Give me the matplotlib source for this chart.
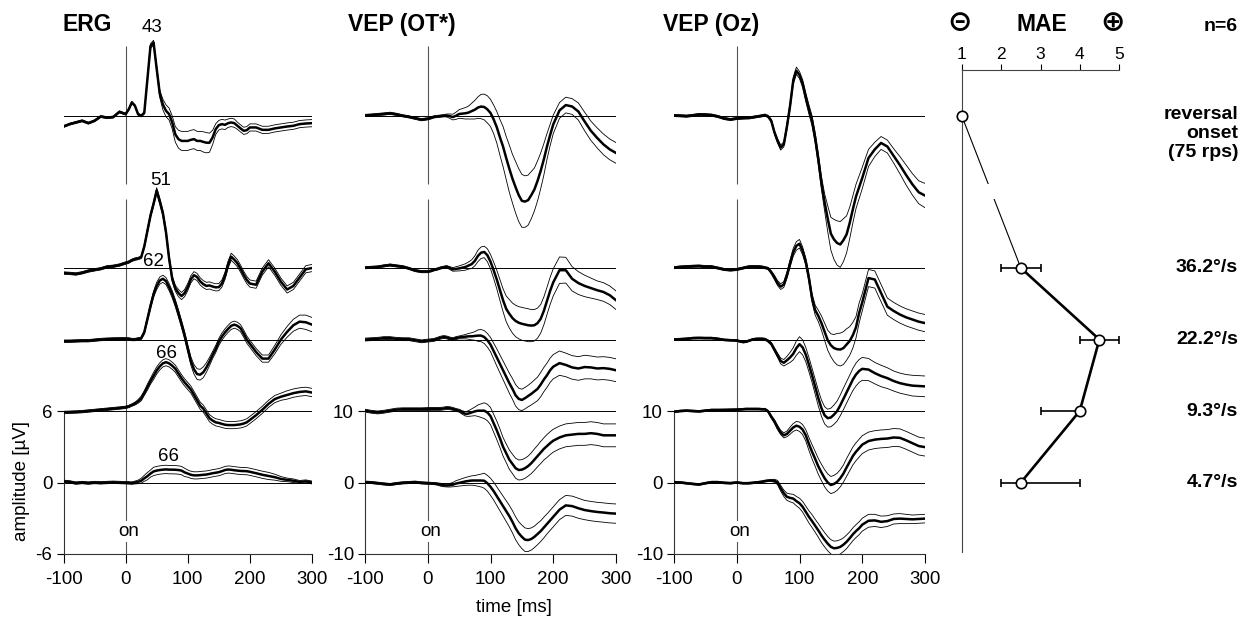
import numpy as np
import matplotlib.pyplot as plt

plt.rcParams['font.family'] = ['Liberation Sans', 'DejaVu Sans']
plt.rcParams['axes.unicode_minus'] = False

# time axis in ms (10 ms steps outside 0-200 ms, 5 ms inside)
t = np.concatenate([np.arange(-100, 0, 10), np.arange(0, 200, 5), np.arange(200, 301, 10)])

conditions = ['reversal\nonset\n(75 rps)', '36.2°/s', '22.2°/s', '9.3°/s', '4.7°/s']

# ---- ERG grand means (uV, relative to each trace baseline) and spread
erg_rev = [-0.84, -0.64, -0.50, -0.36, -0.56, -0.36, 0.00, -0.10, -0.05, 0.39,
           0.20, 0.60, 1.18, 0.90, 0.20, 0.05, 0.30, 3.10, 5.90, 6.20,
           4.00, 1.90, 1.00, 0.48, 0.20, -0.50, -1.50, -1.90, -2.05, -2.05,
           -2.05, -1.96, -1.90, -2.05, -2.05, -2.13, -2.20, -2.20, -1.76, -1.06,
           -0.73, -0.64, -0.70, -0.56, -0.50, -0.56, -0.78, -1.00, -1.20, -1.15,
           -0.92, -0.92, -1.12, -1.12, -1.00, -0.92, -0.84, -0.78, -0.64, -0.59, -0.56]
erg_362 = [-0.42, -0.45, -0.50, -0.40, -0.25, -0.15, -0.06, 0.10, 0.15, 0.25,
           0.42, 0.50, 0.65, 0.75, 0.80, 0.90, 1.80, 3.10, 4.40, 5.40,
           6.50, 5.60, 4.60, 3.00, 0.80, -0.90, -1.70, -2.10, -2.35, -2.10,
           -1.60, -0.95, -0.60, -0.75, -1.12, -1.35, -1.50, -1.46, -1.55, -1.62,
           -1.60, -1.30, -0.65, 0.30, 0.95, 0.70, 0.40, -0.05, -0.56, -1.00,
           -1.30, -1.40, -0.30, 0.40, -0.30, -1.15, -1.80, -1.50, -0.80, -0.10, 0.00]
erg_222 = [-0.14, -0.14, -0.12, -0.10, -0.10, -0.05, 0.00, 0.03, 0.05, 0.06,
           0.06, 0.05, 0.00, 0.00, 0.05, 0.10, 0.60, 1.70, 2.80, 3.80,
           4.50, 4.95, 5.10, 4.90, 4.40, 3.80, 3.05, 2.20, 1.30, 0.35,
           -0.75, -1.80, -2.50, -2.90, -2.95, -2.75, -2.35, -1.85, -1.30, -0.80,
           -0.20, 0.25, 0.60, 0.90, 1.15, 1.25, 1.15, 0.95, 0.50, 0.00,
           -0.35, -1.05, -1.60, -1.60, -0.85, 0.00, 0.65, 1.20, 1.50, 1.45, 1.25]
erg_93 = [-0.12, -0.10, -0.08, -0.05, 0.00, 0.05, 0.10, 0.15, 0.20, 0.25,
          0.31, 0.38, 0.50, 0.62, 0.80, 1.05, 1.50, 2.00, 2.50, 2.95,
          3.40, 3.75, 4.00, 4.10, 4.00, 3.80, 3.55, 3.15, 2.75, 2.40,
          2.10, 1.80, 1.35, 0.90, 0.45, 0.20, -0.20, -0.60, -0.80, -0.95,
          -1.00, -1.08, -1.15, -1.18, -1.18, -1.18, -1.15, -1.12, -1.05, -0.95,
          -0.75, -0.35, 0.10, 0.60, 1.00, 1.20, 1.35, 1.50, 1.60, 1.65, 1.55]
erg_47 = [0.10, 0.05, -0.05, 0.00, -0.05, 0.00, -0.03, 0.00, 0.02, 0.00,
          -0.02, -0.03, -0.05, 0.00, 0.05, 0.15, 0.35, 0.53, 0.75, 0.93,
          1.00, 1.05, 1.08, 1.10, 1.08, 1.08, 1.07, 1.05, 1.00, 0.85,
          0.75, 0.65, 0.60, 0.60, 0.62, 0.65, 0.67, 0.72, 0.78, 0.82,
          0.87, 0.95, 1.05, 1.09, 1.07, 1.03, 1.00, 0.97, 0.96, 0.95,
          0.90, 0.78, 0.65, 0.55, 0.45, 0.30, 0.22, 0.15, 0.05, 0.10, 0.00]

erg_rev_sd = ([0.08] * 16 + [0.10, 0.15, 0.20, 0.20,
              0.20, 0.30, 0.45, 0.50, 0.50, 0.55, 0.65, 0.75, 0.80, 0.80,
              0.80, 0.80, 0.80, 0.80, 0.80, 0.85, 0.85, 0.80, 0.60, 0.45,
              0.40, 0.40, 0.40, 0.35, 0.35, 0.35] + [0.30] * 15)
erg_362_sd = ([0.10] * 16 + [0.15, 0.20, 0.20, 0.20] + [0.25] * 7 + [0.30] * 34)
erg_222_sd = ([0.10] * 16 + [0.15, 0.20, 0.25, 0.25] + [0.30] * 11
              + [0.35, 0.40, 0.45, 0.45, 0.45, 0.40, 0.35] + [0.30] * 16
              + [0.35, 0.40, 0.45, 0.50, 0.55, 0.60, 0.60])
erg_93_sd = ([0.10] * 13 + [0.12, 0.15, 0.20, 0.20, 0.25, 0.25] + [0.30] * 37 + [0.35] * 5)
erg_47_sd = ([0.10] * 13 + [0.12, 0.15, 0.20, 0.25, 0.30, 0.30] + [0.35] * 11 + [0.30] * 24
             + [0.25, 0.20, 0.15, 0.15, 0.12, 0.12, 0.12])

# ---- VEP (OT*) grand means and spread
ot_rev = [0.15, 0.20, 0.28, 0.35, 0.45, 0.30, 0.10, -0.05, -0.25, -0.45,
          -0.32, -0.20, -0.05, 0.00, 0.05, 0.10, 0.14, 0.05, -0.08, 0.10,
          0.35, 0.40, 0.45, 0.55, 0.75, 0.95, 1.25, 1.39, 1.33, 1.00,
          0.50, -0.40, -1.50, -2.90, -4.20, -5.80, -7.30, -8.70, -9.90, -11.00,
          -11.80, -11.90, -11.70, -11.00, -10.20, -9.00, -7.60, -6.00, -4.20, -2.60,
          -1.10, 0.85, 1.60, 1.40, 0.70, -0.70, -2.00, -3.00, -3.90, -4.60, -5.10]
ot_362 = [0.05, 0.10, 0.15, 0.30, 0.42, 0.30, 0.19, -0.05, -0.35, -0.50,
          -0.50, -0.40, -0.25, -0.15, 0.00, 0.10, 0.19, 0.00, -0.19, -0.12,
          -0.05, 0.05, 0.15, 0.35, 0.55, 1.00, 1.70, 2.15, 2.25, 1.80,
          0.90, -0.30, -1.60, -3.06, -4.50, -5.70, -6.40, -7.00, -7.40, -7.65,
          -7.80, -7.90, -8.00, -8.05, -8.00, -7.70, -7.10, -6.00, -4.60, -3.20,
          -2.00, -0.30, -0.30, -1.50, -2.10, -2.50, -2.80, -3.10, -3.35, -3.80, -4.50]
ot_222 = [0.00, 0.05, 0.10, 0.20, 0.20, 0.10, 0.05, 0.05, -0.10, -0.25,
          -0.15, -0.10, -0.05, 0.10, 0.25, 0.35, 0.30, 0.15, 0.05, 0.20,
          0.30, 0.35, 0.40, 0.45, 0.45, 0.50, 0.55, 0.55, 0.35, -0.10,
          -0.70, -1.60, -2.50, -3.40, -4.30, -5.20, -6.10, -6.90, -7.80, -8.30,
          -8.45, -8.20, -7.90, -7.60, -7.25, -6.90, -6.30, -5.60, -5.00, -4.30,
          -3.80, -3.30, -3.55, -3.90, -4.05, -3.85, -3.90, -4.05, -4.00, -4.10, -4.30]
ot_93 = [0.05, -0.10, -0.20, -0.10, 0.05, 0.20, 0.25, 0.25, 0.25, 0.25,
         0.28, 0.30, 0.30, 0.30, 0.30, 0.35, 0.42, 0.40, 0.30, 0.15,
         0.05, -0.20, -0.40, -0.35, -0.20, -0.05, 0.05, 0.05, 0.05, -0.20,
         -0.70, -1.70, -2.70, -3.80, -5.00, -5.90, -6.80, -7.40, -8.00, -8.25,
         -8.20, -8.00, -7.70, -7.30, -6.80, -6.30, -5.80, -5.30, -4.90, -4.50,
         -4.15, -3.70, -3.40, -3.30, -3.20, -3.20, -3.10, -3.20, -3.40, -3.40, -3.40]
ot_47 = [0.05, 0.00, -0.10, -0.20, -0.28, -0.15, -0.05, 0.00, 0.05, -0.05,
         -0.10, -0.12, -0.15, -0.20, -0.30, -0.38, -0.42, -0.38, -0.30, -0.15,
         -0.05, 0.05, 0.15, 0.22, 0.28, 0.28, 0.28, 0.28, 0.25, -0.10,
         -0.60, -1.20, -1.90, -2.60, -3.30, -4.00, -4.70, -5.50, -6.40, -7.10,
         -7.60, -8.00, -8.05, -7.90, -7.60, -7.20, -6.80, -6.30, -5.80, -5.30,
         -4.80, -3.80, -3.20, -3.30, -3.60, -3.85, -4.00, -4.12, -4.20, -4.30, -4.35]

ot_rev_sd = ([0.15] * 16 + [0.20, 0.30, 0.40, 0.50,
             0.60, 0.70, 0.80, 0.90, 1.10, 1.30, 1.50, 1.70, 1.80, 1.90,
             1.90, 2.00, 2.20, 2.50, 2.80, 3.00, 3.30, 3.40, 3.60, 3.70,
             3.70, 3.60, 3.50, 3.30, 3.00, 2.80, 2.50, 2.20, 1.80, 1.50,
             1.30, 1.10, 1.10, 1.10, 1.20, 1.30, 1.35, 1.40, 1.45, 1.45, 1.45])
ot_362_sd = ([0.15] * 17 + [0.20, 0.25, 0.30,
             0.35, 0.40, 0.45, 0.50, 0.60, 0.70, 0.80, 0.80, 0.80, 0.90,
             1.00, 1.15, 1.30, 1.45, 1.60, 1.80, 2.00, 2.10, 2.20, 2.25,
             2.30, 2.30, 2.30, 2.25, 2.20, 2.10, 2.00, 1.95, 1.90, 1.90,
             1.90, 1.85, 1.80, 1.70, 1.60, 1.50, 1.40, 1.30, 1.30, 1.30, 1.30])
ot_222_sd = ([0.20] * 20 + [0.20, 0.25, 0.30, 0.40, 0.50, 0.60, 0.80, 0.85, 0.90, 0.95,
             1.00, 1.10, 1.20, 1.25, 1.30, 1.35, 1.40, 1.45, 1.50, 1.50,
             1.50, 1.50, 1.50, 1.55, 1.60, 1.65, 1.70, 1.70, 1.70, 1.70,
             1.70, 1.70, 1.65, 1.65, 1.65, 1.65, 1.60, 1.60, 1.60, 1.60, 1.60])
ot_93_sd = ([0.20] * 20 + [0.20, 0.25, 0.30, 0.40, 0.50, 0.60, 0.80, 0.95, 1.10, 1.15,
            1.20, 1.25, 1.30, 1.30, 1.30, 1.30, 1.35, 1.35, 1.40, 1.40,
            1.40, 1.40, 1.40, 1.45, 1.50, 1.50, 1.55, 1.55, 1.60, 1.60] + [1.60] * 11)
ot_47_sd = ([0.15] * 14 + [0.20, 0.20, 0.20, 0.25, 0.30, 0.40,
            0.45, 0.50, 0.55, 0.60, 0.65, 0.70, 0.80, 0.90, 1.05, 1.10,
            1.20, 1.25, 1.30, 1.35, 1.40, 1.45, 1.50, 1.55, 1.60, 1.60,
            1.65, 1.65, 1.60, 1.55, 1.50, 1.50, 1.45, 1.45, 1.40, 1.40]
            + [1.40] * 5 + [1.35] * 6)

# ---- VEP (Oz) grand means and spread
oz_rev = [0.14, 0.10, 0.05, 0.15, 0.28, 0.25, 0.19, 0.00, -0.28, -0.42,
          -0.28, -0.25, -0.22, -0.20, -0.19, -0.12, -0.05, 0.02, 0.10, 0.19,
          0.00, -0.60, -2.20, -3.40, -4.35, -3.90, -1.40, 1.50, 5.00, 6.40,
          5.80, 4.60, 2.70, 1.00, -0.60, -3.00, -6.00, -9.30, -12.00, -14.30,
          -16.40, -17.20, -17.70, -17.90, -17.30, -16.50, -14.90, -13.00, -11.20, -9.90,
          -8.60, -5.80, -4.60, -3.70, -4.20, -5.50, -6.80, -8.20, -9.50, -10.60, -11.06]
oz_362 = [0.05, 0.15, 0.20, 0.25, 0.28, 0.20, 0.19, 0.00, -0.20, -0.28,
          -0.20, -0.10, 0.00, 0.10, 0.19, 0.20, 0.19, 0.19, 0.15, 0.05,
          -0.05, -0.60, -1.30, -2.10, -2.60, -2.30, -1.00, 0.65, 2.20, 3.10,
          3.40, 2.40, 0.90, -1.40, -4.20, -5.90, -6.70, -7.70, -8.90, -10.10,
          -10.80, -11.20, -11.35, -11.40, -11.20, -10.70, -10.20, -9.40, -8.30, -6.30,
          -4.80, -1.40, -1.60, -3.50, -5.40, -6.00, -6.50, -6.90, -7.20, -7.50, -7.70]
oz_222 = [0.00, 0.05, 0.10, 0.20, 0.22, 0.20, 0.20, 0.10, -0.05, -0.10,
          -0.14, -0.25, -0.35, -0.30, -0.15, 0.00, 0.08, 0.10, 0.10, 0.05,
          -0.20, -0.60, -1.40, -2.20, -3.00, -3.25, -2.90, -2.50, -2.00, -1.20,
          -0.65, -1.10, -2.10, -3.50, -5.00, -6.60, -8.20, -9.60, -10.60, -11.00,
          -10.90, -10.50, -10.00, -9.20, -8.30, -7.40, -6.50, -5.60, -4.90, -4.40,
          -4.10, -4.20, -4.70, -5.10, -5.40, -5.80, -6.10, -6.30, -6.45, -6.50, -6.55]
oz_93 = [-0.10, 0.00, 0.05, 0.00, -0.05, 0.05, 0.14, 0.14, 0.15, 0.17,
         0.19, 0.22, 0.25, 0.28, 0.28, 0.28, 0.28, 0.28, 0.25, 0.25,
         -0.05, -0.80, -1.45, -2.30, -3.00, -3.40, -3.20, -2.75, -2.30, -2.05,
         -2.20, -2.60, -3.40, -4.60, -5.70, -6.70, -7.75, -8.60, -9.40, -10.00,
         -10.35, -10.20, -9.90, -9.40, -8.75, -7.90, -7.10, -6.30, -5.70, -5.20,
         -4.70, -4.20, -4.00, -3.90, -3.85, -3.70, -3.75, -4.10, -4.50, -4.90, -5.05]
oz_47 = [0.05, 0.00, -0.10, -0.20, -0.28, -0.10, 0.05, 0.05, -0.05, -0.09,
         0.00, -0.05, -0.10, -0.10, -0.09, -0.05, 0.00, 0.05, 0.10, 0.20,
         0.25, 0.28, 0.25, 0.00, -0.80, -1.50, -2.00, -2.15, -2.25, -2.60,
         -2.90, -3.40, -4.10, -4.80, -5.40, -6.05, -6.70, -7.40, -8.00, -8.55,
         -9.00, -9.20, -9.15, -9.00, -8.70, -8.30, -7.80, -7.25, -6.80, -6.40,
         -5.90, -5.35, -5.30, -5.50, -5.40, -5.10, -5.05, -5.10, -5.15, -5.10, -5.05]

oz_rev_sd = ([0.15] * 21 + [0.20, 0.25, 0.30, 0.35, 0.35, 0.40, 0.45, 0.50, 0.50,
             0.50, 0.55, 0.60, 0.65, 0.70, 0.75, 0.80, 0.90, 1.20, 1.80,
             2.30, 2.80, 3.10, 3.20, 3.00, 2.60, 2.20, 1.90, 1.70, 1.60,
             1.50, 1.20, 1.00, 0.90, 0.90, 1.00, 1.20, 1.40, 1.50, 1.60, 1.70])
oz_362_sd = ([0.15] * 21 + [0.20, 0.30, 0.35, 0.40, 0.40, 0.45, 0.50, 0.55, 0.60,
             0.60, 0.55, 0.50, 0.55, 0.60, 0.70, 0.80, 1.00, 1.20, 1.40,
             1.60, 1.90, 2.20, 2.30, 2.30, 2.20, 2.00, 1.80, 1.50, 1.40] + [1.20] * 11)
oz_222_sd = ([0.12] * 20 + [0.15, 0.20, 0.25, 0.30, 0.40, 0.45, 0.55, 0.70, 0.85, 1.00,
             1.05, 1.05, 1.00, 1.00, 1.00, 1.05, 1.10, 1.15, 1.20, 1.25,
             1.30, 1.35, 1.40, 1.45, 1.50, 1.50, 1.50, 1.55, 1.60, 1.60,
             1.60, 1.55, 1.50, 1.50, 1.45, 1.40, 1.40, 1.40, 1.45, 1.45, 1.45])
oz_93_sd = ([0.12] * 20 + [0.15, 0.20, 0.25, 0.30, 0.30, 0.35, 0.40, 0.50, 0.55, 0.60,
            0.65, 0.70, 0.80, 0.90, 1.00, 1.05, 1.10, 1.15, 1.20, 1.20]
            + [1.20] * 5 + [1.25] * 16)
oz_47_sd = ([0.12] * 21 + [0.15, 0.20, 0.30, 0.40, 0.45, 0.50, 0.55, 0.60, 0.65,
            0.70, 0.75, 0.80, 0.85, 0.90, 0.90, 0.95, 1.00, 1.00, 1.00,
            1.00, 1.00, 1.00, 1.00, 0.95, 0.95, 0.90, 0.90, 0.90, 0.90,
            0.90, 0.90, 0.85, 0.80, 0.75, 0.70, 0.70, 0.65, 0.60, 0.60, 0.60])

# ERG peak latency labels (ms)
erg_peaks = ['43', '51', '62', '66', '66']
erg_peak_x = [43, 56, 45, 66, 69]
erg_peak_row = [6.36, 4.22, 3.09, 1.80, 0.36]

# ---- MAE ratings (1-5)
mae_score = [1.0, 2.5, 4.5, 4.0, 2.5]
mae_err_lo = [0.0, 0.5, 0.5, 1.0, 0.5]
mae_err_hi = [0.0, 0.5, 0.5, 0.0, 1.5]

# ---------------------------------------------------------------- layout
W, H = 1246, 618
fig = plt.figure(figsize=(W / 100, H / 100), dpi=100)

rows = [5.12, 3, 2, 1, 0]      # vertical position of each condition (row units)
gap = (3.96, 4.18)             # break between the reversal row and the rest
row_top = 6.19


def px_axes(left, right, top, bottom):
    return fig.add_axes([left / W, 1 - bottom / H, (right - left) / W, (bottom - top) / H])


def draw_panel(ax, means, sds, step):
    ax.set_xlim(-100, 300)
    ax.set_ylim(-step, row_top * step)
    for r, m, s in zip(rows, means, sds):
        m = np.asarray(m)
        s = np.asarray(s)
        y0 = r * step
        ax.axhline(y0, color='black', lw=0.7, zorder=1)
        ax.plot(t, y0 + m + s, color='black', lw=0.6, zorder=2)
        ax.plot(t, y0 + m - s, color='black', lw=0.6, zorder=2)
        ax.plot(t, y0 + m, color='black', lw=1.8, zorder=3)
    ax.vlines(0, gap[1] * step, 6.1 * step, color='#555555', lw=0.8, zorder=0.5)
    ax.vlines(0, -step, gap[0] * step, color='#555555', lw=0.8, zorder=0.5)
    ax.text(5, -0.69 * step, 'on', ha='center', va='center', fontsize=13.5,
            bbox=dict(fc='white', ec='none', pad=1.5), zorder=4)
    for side in ['top', 'right']:
        ax.spines[side].set_visible(False)
    ax.spines['left'].set_bounds(-step, step)
    ax.spines['left'].set_color('#333333')
    ax.spines['bottom'].set_color('#333333')
    ax.set_xticks([-100, 0, 100, 200, 300])
    ax.set_yticks([-step, 0, step])
    ax.tick_params(axis='x', direction='out', length=6.5, width=0.8, pad=6, labelsize=13.5)
    ax.tick_params(axis='y', direction='out', length=5, width=0.8, pad=3, labelsize=13.5)
    ax.patch.set_visible(False)


panels = [
    ('ERG', 62, (63.5, 312), 6, [erg_rev, erg_362, erg_222, erg_93, erg_47],
     [erg_rev_sd, erg_362_sd, erg_222_sd, erg_93_sd, erg_47_sd]),
    ('VEP (OT*)', 348, (365, 616), 10, [ot_rev, ot_362, ot_222, ot_93, ot_47],
     [ot_rev_sd, ot_362_sd, ot_222_sd, ot_93_sd, ot_47_sd]),
    ('VEP (Oz)', 663, (674, 925), 10, [oz_rev, oz_362, oz_222, oz_93, oz_47],
     [oz_rev_sd, oz_362_sd, oz_222_sd, oz_93_sd, oz_47_sd]),
]

axes = []
for title, tx, (x0, x1), step, means, sds in panels:
    ax = px_axes(x0, x1, 40, 554)
    draw_panel(ax, means, sds, step)
    fig.text(tx / W, 1 - 31 / H, title, fontsize=16.5, fontweight='bold', ha='left', va='baseline')
    axes.append(ax)

erg_ax = axes[0]
for lab, x, r in zip(erg_peaks, erg_peak_x, erg_peak_row):
    erg_ax.text(x, r * 6, lab, ha='center', va='center', fontsize=13.5, zorder=5, clip_on=False)

fig.text(22 / W, 1 - 481 / H, 'amplitude [µV]', rotation=90, ha='center', va='center', fontsize=13.5)
fig.text(514 / W, 1 - 607 / H, 'time [ms]', ha='center', va='center', fontsize=13.5)

# ---------------------------------------------------------------- MAE panel
mx = px_axes(962, 1119, 70, 552)
mx.set_xlim(1, 5)
mx.set_ylim((482.5 - 552) / 71.5, (482.5 - 70) / 71.5)
mx.patch.set_visible(False)
for side in ['right', 'bottom']:
    mx.spines[side].set_visible(False)
mx.spines['left'].set_color('#444444')
mx.spines['top'].set_color('#444444')
mx.xaxis.tick_top()
mx.set_xticks([1, 2, 3, 4, 5])
mx.set_yticks([])
mx.tick_params(axis='x', direction='out', length=4, width=0.8, pad=1.5, labelsize=12.5)

mx.plot(mae_score[:2], rows[:2], color='black', lw=0.8, zorder=3)
mx.axhspan(gap[0], gap[1], xmin=0.05, xmax=0.95, color='white', lw=0, zorder=3.5)
mx.plot(mae_score[1:], rows[1:], color='black', lw=1.9, zorder=4)
mx.errorbar(mae_score[1:], rows[1:], xerr=[mae_err_lo[1:], mae_err_hi[1:]], fmt='none',
            ecolor='black', elinewidth=1.2, capsize=3, capthick=1.2, zorder=4)
mx.plot(mae_score, rows, 'o', ms=7.5, mfc='white', mec='black', mew=1.2, clip_on=False, zorder=5)

hy = 1 - 31 / H
fig.text(960 / W, hy, '⊝', ha='center', va='baseline', fontsize=21, fontweight='bold')
fig.text(1042 / W, hy, 'MAE', ha='center', va='baseline', fontsize=16.5, fontweight='bold')
fig.text(1113 / W, hy, '⊕', ha='center', va='baseline', fontsize=21, fontweight='bold')
fig.text(1238 / W, hy, 'n=6', ha='right', va='baseline', fontsize=14, fontweight='bold')

for lab, r in zip(conditions, rows):
    y_px = 482.5 - r * 71.5
    if '\n' in lab:
        fig.text(1238 / W, 1 - (y_px - 10) / H, lab, ha='right', va='top', fontsize=14,
                 fontweight='bold', linespacing=1.15)
    else:
        fig.text(1238 / W, 1 - y_px / H, lab, ha='right', va='center', fontsize=14, fontweight='bold')

fig.savefig('out.png', dpi=100)
